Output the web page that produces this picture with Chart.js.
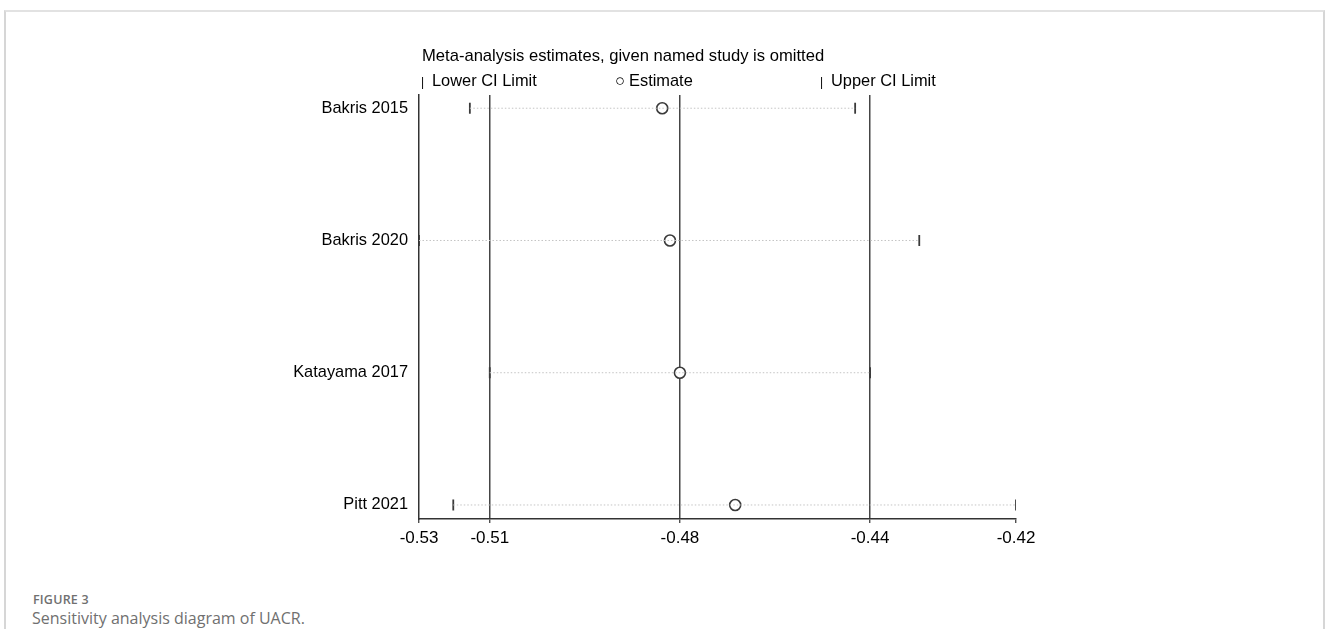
<!DOCTYPE html>
<html>
<head>
<meta charset="utf-8">
<script src="https://cdn.jsdelivr.net/npm/chart.js@4.4.1/dist/chart.umd.min.js"></script>
<style>
  html, body { margin: 0; padding: 0; background: #fff; }
  body { width: 1328px; height: 629px; position: relative; overflow: hidden; font-family: "Liberation Sans", Arial, sans-serif; }
  #frame { position: absolute; left: 4px; top: 10px; width: 1321px; height: 640px; border-top: 2px solid #e2e2e2; border-left: 2px solid #d6d6d6; border-right: 2px solid #d6d6d6; box-sizing: border-box; }
  #wrap { position: absolute; left: 0; top: 0; width: 1328px; height: 560px; }
  .t { position: absolute; color: #000; font-size: 16.4px; white-space: nowrap; line-height: 1; }
  .bar { position: absolute; color: #000; font-size: 12px; line-height: 1; }
  #cap1 { position: absolute; left: 33px; top: 591px; font-family: "Open Sans", sans-serif; font-weight: 600; font-size: 12.5px; color: #707070; letter-spacing: 0.2px; }
  #cap2 { position: absolute; left: 32px; top: 607px; font-family: "Open Sans", sans-serif; font-size: 16px; color: #707070; }
</style>
</head>
<body>
<div id="frame"></div>
<div id="wrap"><canvas id="c" width="1328" height="560"></canvas></div>
<div class="t" style="left:422px; top:48px; font-size:16.6px;">Meta-analysis estimates, given named study is omitted</div>
<div class="bar" style="left:421px; top:76px;">|</div>
<div class="t" style="left:432px; top:72px;">Lower CI Limit</div>
<div class="t" style="left:615px; top:72px;">○</div>
<div class="t" style="left:629px; top:72px;">Estimate</div>
<div class="bar" style="left:820px; top:76px;">|</div>
<div class="t" style="left:831px; top:72px;">Upper CI Limit</div>
<div id="cap1">FIGURE 3</div>
<div id="cap2">Sensitivity analysis diagram of UACR.</div>
<script>
// Studies (rows, top to bottom)
const studies = ["Bakris 2015", "Bakris 2020", "Katayama 2017", "Pitt 2021"];
// Estimates with each study omitted
const lowerCI  = [-0.5160, -0.5252, -0.5124, -0.5190];
const estimate = [-0.4812, -0.4798, -0.4780, -0.4680];
const upperCI  = [-0.4463, -0.4347, -0.4436, -0.4172];
// Overall (all studies) lower CI, estimate, upper CI -> reference lines
const overall = [-0.5124, -0.4780, -0.4436];
// Axis ticks: min, overall lower, estimate, upper, max
const xTicks = [-0.5252, -0.5124, -0.4780, -0.4436, -0.4172];
const xTickLabels = ["-0.53", "-0.51", "-0.48", "-0.44", "-0.42"];

const dark = '#3a3a3a';
const datasets = [];
studies.forEach((s, i) => {
  datasets.push({
    type: 'line',
    data: [{x: lowerCI[i], y: i}, {x: upperCI[i], y: i}],
    borderColor: '#c4c4c4', borderWidth: 1, borderDash: [1.5, 2],
    pointRadius: 0, fill: false
  });
});
datasets.push({
  type: 'scatter',
  data: studies.map((s, i) => ({x: lowerCI[i], y: i})),
  pointStyle: 'line', rotation: 90, radius: 5.5,
  borderColor: dark, borderWidth: 1.8
});
datasets.push({
  type: 'scatter',
  data: studies.map((s, i) => ({x: upperCI[i], y: i})),
  pointStyle: 'line', rotation: 90, radius: 5.5,
  borderColor: dark, borderWidth: 1.8
});
datasets.push({
  type: 'scatter',
  data: studies.map((s, i) => ({x: estimate[i], y: i})),
  pointStyle: 'circle', radius: 5.5,
  backgroundColor: '#fff', borderColor: dark, borderWidth: 1.6
});

new Chart(document.getElementById('c'), {
  type: 'scatter',
  data: { datasets },
  options: {
    responsive: false, animation: false,
    layout: { padding: { left: 0, right: 312, top: 95, bottom: 0 } },
    plugins: { legend: { display: false }, tooltip: { enabled: false } },
    scales: {
      x: {
        type: 'linear', min: xTicks[0], max: xTicks[4],
        afterBuildTicks: (sc) => { sc.ticks = xTicks.map(v => ({ value: v })); },
        afterFit: (sc) => { sc.height = 41; },
        ticks: {
          autoSkip: false, maxRotation: 0, padding: 5,
          color: '#000', font: { family: 'Liberation Sans', size: 17 },
          callback: (v, idx) => xTickLabels[idx]
        },
        grid: {
          color: (ctx) => (ctx.index >= 1 && ctx.index <= 3) ? '#454545' : 'rgba(0,0,0,0)',
          lineWidth: 1.5, tickLength: 4, tickColor: '#333', tickWidth: 1.2, drawOnChartArea: true
        },
        border: { display: true, color: '#333', width: 1.5 }
      },
      y: {
        type: 'linear', reverse: true, min: -0.1, max: 3.106,
        afterBuildTicks: (sc) => { sc.ticks = studies.map((s, i) => ({ value: i })); },
        afterFit: (sc) => { sc.width = 419; },
        ticks: {
          autoSkip: false, padding: 11,
          color: '#000', font: { family: 'Liberation Sans', size: 16.4 },
          callback: (v) => studies[v]
        },
        grid: { display: false, drawTicks: false },
        border: { display: true, color: '#333', width: 1.5 }
      }
    }
  }
});
</script>
</body>
</html>
